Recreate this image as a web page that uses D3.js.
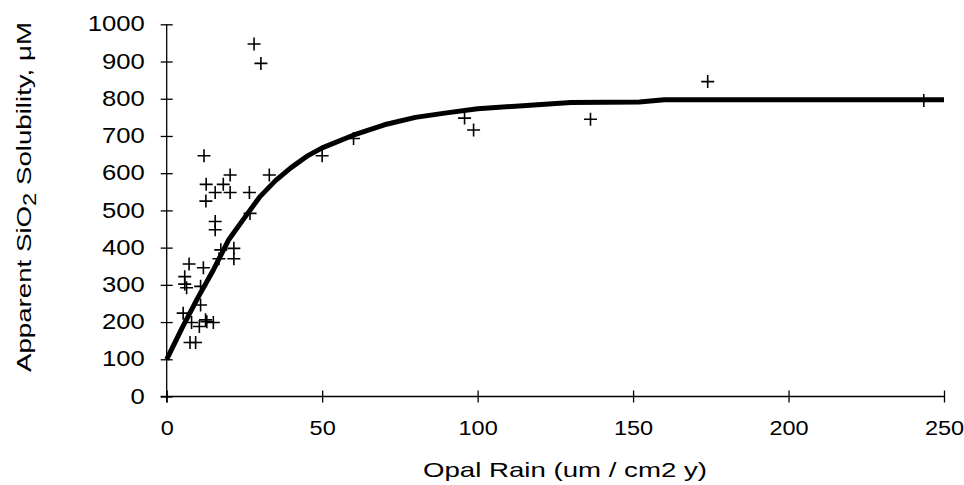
<!DOCTYPE html>
<html>
<head>
<meta charset="utf-8">
<script src="https://cdn.jsdelivr.net/npm/d3@7"></script>
<style>
  html, body { margin: 0; padding: 0; background: #fff; }
  svg text { font-family: "Liberation Sans", Arial, Helvetica, sans-serif; fill: #000; }
</style>
</head>
<body>
<svg id="chart" width="964" height="485"></svg>
<script>
// Measured samples: opal rain vs apparent SiO2 solubility
const rain = [28.1, 30.3, 12.0, 20.4, 33.0, 12.7, 18.2, 15.6, 20.4, 26.6,
              12.6, 26.8, 15.6, 15.6, 17.4, 21.6, 21.6, 16.8, 7.2, 11.8,
              5.8, 5.8, 6.4, 10.9, 10.9, 5.3, 8.0, 10.5, 12.9, 12.5,
              15.0, 7.5, 9.3, 50.0, 60.1, 95.8, 98.7, 136.3, 174.0, 243.5];
const solubility = [947, 895, 647, 595, 595, 570, 570, 548, 548, 548,
                    525, 492, 470, 448, 394, 398, 370, 370, 356, 346,
                    322, 302, 292, 296, 246, 224, 199, 188, 201, 206,
                    199, 145, 145, 647, 693, 748, 716, 745, 846, 795];

// Fitted saturation curve
const fitRain = [0, 5, 10, 15, 20, 25, 30, 35, 40, 45, 50, 60, 70, 80, 90, 100, 130, 152, 160, 250];
const fitSol  = [100, 185, 265, 340, 422, 480, 537, 580, 615, 645, 668, 702, 730, 750, 762, 773, 790, 791, 797, 797];

const xTicks = [0, 50, 100, 150, 200, 250];
const yTicks = [0, 100, 200, 300, 400, 500, 600, 700, 800, 900, 1000];

const svg = d3.select("#chart");
const margin = { left: 166.7, right: 20, top: 24.3, bottom: 88.5 };
const W = 964, H = 485;

const x = d3.scaleLinear().domain([0, 250]).range([margin.left, 944]);
const y = d3.scaleLinear().domain([0, 1000]).range([H - margin.bottom, margin.top]);

// Tick labels are drawn in a slightly widened sans
const yLabelScale = 1.165;
const xLabelScale = 1.12;

// Y axis
const yAxis = svg.append("g")
  .attr("transform", `translate(${x(0)},0)`)
  .call(d3.axisLeft(y).tickValues(yTicks).tickSize(6).tickSizeOuter(0).tickFormat(d3.format("d")));
yAxis.select(".domain").remove();
yAxis.selectAll(".tick line").attr("x1", -6).attr("x2", 6).attr("stroke", "#000").attr("stroke-width", 1.3);
yAxis.selectAll(".tick text")
  .attr("x", -22 / yLabelScale)
  .attr("dy", "0.3em")
  .attr("transform", `scale(${yLabelScale},1)`)
  .style("font-size", "22px")
  .attr("text-anchor", "end");
yAxis.append("line")
  .attr("x1", 0).attr("x2", 0)
  .attr("y1", y(1000)).attr("y2", y(0) + 6)
  .attr("stroke", "#000").attr("stroke-width", 1.3);

// X axis
const xAxis = svg.append("g")
  .attr("transform", `translate(0,${y(0)})`)
  .call(d3.axisBottom(x).tickValues(xTicks).tickSize(6).tickSizeOuter(0).tickFormat(d3.format("d")));
xAxis.select(".domain").remove();
xAxis.selectAll(".tick line").attr("y1", -6).attr("y2", 6).attr("stroke", "#000").attr("stroke-width", 1.3);
xAxis.selectAll(".tick text")
  .attr("x", 0)
  .attr("y", 38.5)
  .attr("dy", 0)
  .attr("transform", `scale(${xLabelScale},1)`)
  .style("font-size", "21px")
  .attr("text-anchor", "middle");
xAxis.append("line")
  .attr("x1", x(0) - 6).attr("x2", x(250))
  .attr("y1", 0).attr("y2", 0)
  .attr("stroke", "#000").attr("stroke-width", 1.3);

// Axis titles
svg.append("text")
  .attr("x", 565).attr("y", 477)
  .attr("text-anchor", "middle")
  .attr("textLength", 284)
  .attr("lengthAdjust", "spacingAndGlyphs")
  .style("font-size", "21px")
  .text("Opal Rain (um / cm2 y)");

const yTitle = svg.append("text")
  .attr("transform", "translate(31,197) rotate(-90)")
  .attr("text-anchor", "middle")
  .attr("textLength", 350)
  .attr("lengthAdjust", "spacingAndGlyphs")
  .style("font-size", "21px");
yTitle.append("tspan").text("Apparent SiO");
yTitle.append("tspan").attr("dy", 5).style("font-size", "18px").text("2");
yTitle.append("tspan").attr("dy", -5).text(" Solubility, \u03BCM");

// Fitted curve
const line = d3.line().x(d => x(d[0])).y(d => y(d[1]));
svg.append("path")
  .datum(d3.zip(fitRain, fitSol))
  .attr("d", line)
  .attr("fill", "none")
  .attr("stroke", "#000")
  .attr("stroke-width", 5)
  .attr("stroke-linejoin", "round");

// Plus markers
const plus = "M-6.5,0H6.5M0,-6.5V6.5";
svg.append("g")
  .selectAll("path")
  .data(d3.zip(rain, solubility))
  .join("path")
  .attr("transform", d => `translate(${x(d[0])},${y(d[1])})`)
  .attr("d", plus)
  .attr("stroke", "#000")
  .attr("stroke-width", 1.6)
  .attr("fill", "none");
</script>
</body>
</html>
